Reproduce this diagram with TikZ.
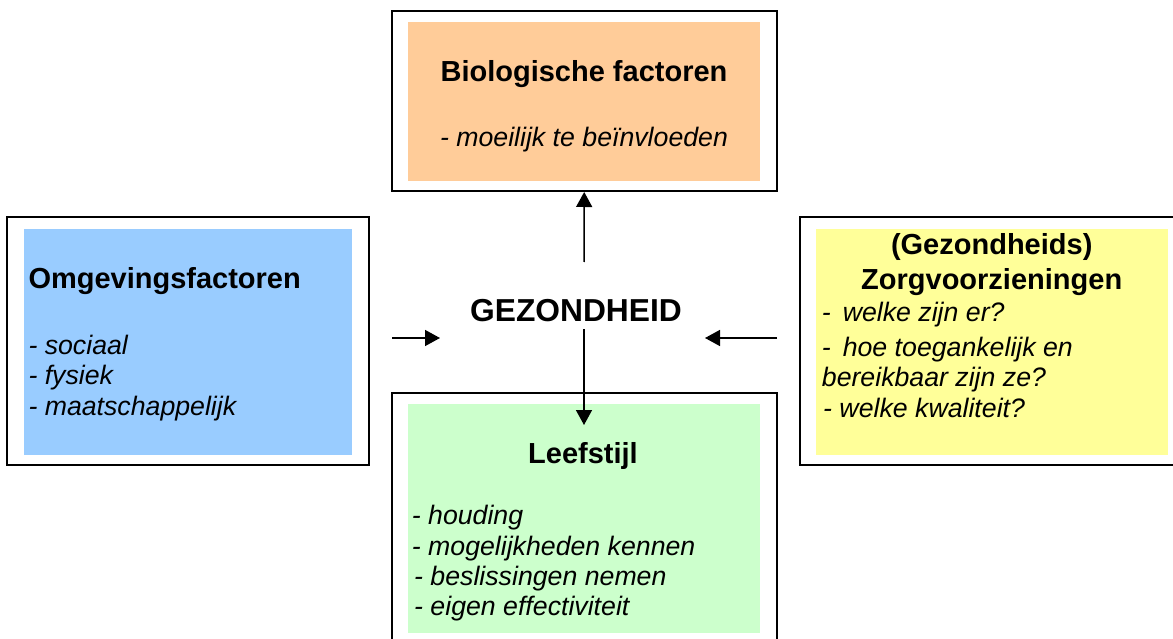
\documentclass[tikz,border=0pt]{standalone}
\usepackage{fontspec}
\setmainfont{Liberation Sans}
\usetikzlibrary{arrows.meta}
\definecolor{bioorange}{HTML}{FFCC99}
\definecolor{omgblue}{HTML}{99CCFF}
\definecolor{zorgyellow}{HTML}{FFFF99}
\definecolor{leefgreen}{HTML}{CCFFCC}
\begin{document}
\begin{tikzpicture}[x=1pt,y=-1pt,
  frame/.style={draw=black,line width=2pt,fill=white,inner sep=0pt},
  fillbox/.style={draw=none,inner sep=0pt},
  titletext/.style={inner sep=0pt,anchor=base,font=\fontsize{29}{34}\selectfont\bfseries},
  bodytext/.style={inner sep=0pt,anchor=base west,font=\fontsize{26.7}{30}\selectfont\itshape},
  bigtext/.style={inner sep=0pt,anchor=base,font=\fontsize{31.75}{36}\selectfont\bfseries},
  arrowline/.style={line width=1.5pt,-{Triangle[length=15pt,width=16pt]}}]
\useasboundingbox (0,0) rectangle (1173,639);
\clip (0,0) rectangle (1173,639);
% frames
\node[frame,minimum width=385pt,minimum height=180pt] (topframe) at (584.2,101) {};
\node[frame,minimum width=361.4pt,minimum height=248pt] (leftframe) at (188,341) {};
\node[frame,minimum width=385pt,minimum height=248pt] (rightframe) at (992.5,341) {};
\node[frame,minimum width=385pt,minimum height=280pt] (bottomframe) at (584.2,532.7) {};
% fills
\node[fillbox,fill=bioorange,minimum width=352pt,minimum height=159pt] (topfill) at (584,101.5) {};
\node[fillbox,fill=omgblue,minimum width=328pt,minimum height=226pt] (leftfill) at (188,342) {};
\node[fillbox,fill=zorgyellow,minimum width=352pt,minimum height=226pt] (rightfill) at (992,342) {};
\node[fillbox,fill=leefgreen,minimum width=352pt,minimum height=229pt] (bottomfill) at (584,518.5) {};
% top texts
\node[titletext] (biotitle) at (584,82) {Biologische factoren};
\node[bodytext,anchor=base] (bio1) at (584,146.7) {- moeilijk te beïnvloeden};
% left texts
\node[titletext,anchor=base west] (omgtitle) at (28.3,288) {Omgevingsfactoren};
\node[bodytext] (omg1) at (28.3,354) {- sociaal};
\node[bodytext] (omg2) at (28.3,384.3) {- fysiek};
\node[bodytext] (omg3) at (28.3,415) {- maatschappelijk};
% right texts
\node[titletext] (zorgtitle1) at (991.7,254.5) {(Gezondheids)};
\node[titletext] (zorgtitle2) at (991.7,289.3) {Zorgvoorzieningen};
\node[bodytext] (zorg1) at (821.7,321.7) {-\hspace{0.45em}welke zijn er?};
\node[bodytext] (zorg2) at (821.7,356.7) {-\hspace{0.45em}hoe toegankelijk en};
\node[bodytext] (zorg3) at (821.7,386.7) {bereikbaar zijn ze?};
\node[bodytext] (zorg4) at (823,417.3) {- welke kwaliteit?};
% bottom texts
\node[titletext] (leeftitle) at (583,463) {Leefstijl};
\node[bodytext] (leef1) at (411.7,524) {- houding};
\node[bodytext] (leef2) at (411.7,555) {- mogelijkheden kennen};
\node[bodytext] (leef3) at (414,585) {- beslissingen nemen};
\node[bodytext] (leef4) at (414,615) {- eigen effectiviteit};
% centre
\node[bigtext] (gez) at (576,321.5) {GEZONDHEID};
% arrows
\coordinate (upstart) at (584,262);
\coordinate (downstart) at (584,329);
\coordinate (downend) at (584,425);
\coordinate (leftstart) at (392,338);
\coordinate (leftend) at (440,338);
\coordinate (rightstart) at (777,338);
\coordinate (rightend) at (705,338);
\draw[arrowline] (upstart) -- (topframe.south);
\draw[arrowline] (downstart) -- (downend);
\draw[arrowline] (leftstart) -- (leftend);
\draw[arrowline] (rightstart) -- (rightend);
\end{tikzpicture}
\end{document}
